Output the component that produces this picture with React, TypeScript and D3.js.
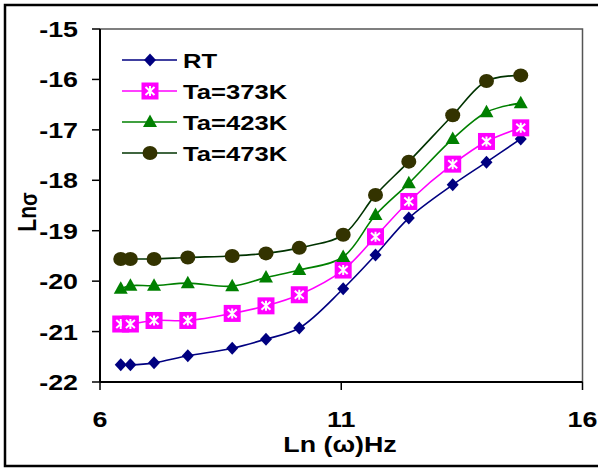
import React from "react";
import * as d3 from "d3";

const xValues = [6.43, 6.63, 7.12, 7.82, 8.74, 9.44, 10.13, 11.04, 11.71, 12.4, 13.31, 14.01, 14.72];
const rt = [-21.66, -21.66, -21.62, -21.48, -21.33, -21.15, -20.93, -20.15, -19.48, -18.75, -18.09, -17.64, -17.18];
const ta373 = [-20.85, -20.85, -20.78, -20.78, -20.64, -20.49, -20.27, -19.78, -19.12, -18.42, -17.68, -17.23, -16.96];
const ta423 = [-20.15, -20.09, -20.09, -20.04, -20.1, -19.93, -19.78, -19.52, -18.69, -18.06, -17.18, -16.65, -16.47];
const ta473 = [-19.56, -19.56, -19.56, -19.53, -19.5, -19.45, -19.34, -19.08, -18.29, -17.63, -16.71, -16.03, -15.92];

const seriesNames = ["RT", "Ta=373K", "Ta=423K", "Ta=473K"];
const xTicks = [6, 11, 16];
const yTicks = [-22, -21, -20, -19, -18, -17, -16, -15];

const W = 598, H = 469;
const L = 100, R = 582.5, T = 29, B = 382;
const FONT = "'Liberation Sans', Arial, sans-serif";
const SX = 1.22;

const x = d3.scaleLinear().domain([6, 16]).range([L, R]);
const y = d3.scaleLinear().domain([-22, -15]).range([B, T]);

type Kind = "diamond" | "square" | "triangle" | "circle";
const series: { name: string; values: number[]; line: string; kind: Kind }[] = [
  { name: seriesNames[0], values: rt, line: "#000080", kind: "diamond" },
  { name: seriesNames[1], values: ta373, line: "#ff00ff", kind: "square" },
  { name: seriesNames[2], values: ta423, line: "#008000", kind: "triangle" },
  { name: seriesNames[3], values: ta473, line: "#003300", kind: "circle" },
];

function Marker({ kind, cx, cy }: { kind: Kind; cx: number; cy: number }) {
  if (kind === "diamond")
    return <path d={`M${cx},${cy - 6.5}L${cx + 6},${cy}L${cx},${cy + 6.5}L${cx - 6},${cy}Z`} fill="#000080" />;
  if (kind === "square")
    return (
      <g>
        <rect x={cx - 8.5} y={cy - 8.5} width={17} height={17} fill="#ff00ff" />
        <path
          d={`M${cx},${cy - 5}L${cx},${cy + 5}M${cx - 4.5},${cy - 4}L${cx + 4.5},${cy + 4}M${cx + 4.5},${cy - 4}L${cx - 4.5},${cy + 4}`}
          stroke="#fff"
          strokeWidth={2}
        />
      </g>
    );
  if (kind === "triangle")
    return <path d={`M${cx},${cy - 7.5}L${cx + 7},${cy + 5}L${cx - 7},${cy + 5}Z`} fill="#008000" />;
  return <ellipse cx={cx} cy={cy} rx={7.5} ry={7} fill="#333300" />;
}

function Txt({ x: tx, y: ty, anchor, size, children }: any) {
  return (
    <text
      transform={`translate(${tx},${ty}) scale(${SX},1)`}
      textAnchor={anchor}
      fontFamily={FONT}
      fontWeight="bold"
      fontSize={size}
      fill="#000"
    >
      {children}
    </text>
  );
}

export default function App() {
  const line = d3
    .line<number>()
    .x((_, i) => x(xValues[i]))
    .y((v) => y(v))
    .curve(d3.curveCatmullRom.alpha(0.5));

  return (
    <svg width={W} height={H} style={{ position: "absolute", left: 0, top: 0, background: "#fff" }}>
      <rect x={0} y={0} width={W} height={H} fill="#fff" />
      {/* outer frame */}
      <rect x={5} y={5} width={W + 10} height={461} fill="none" stroke="#000" strokeWidth={2.5} />
      {/* plot frame top/right */}
      <path d={`M${L},${T}H${R}V${B}`} fill="none" stroke="#555" strokeWidth={1.5} />
      {/* series lines */}
      {series.map((s) => (
        <path key={s.name} d={line(s.values) || ""} fill="none" stroke={s.line} strokeWidth={1.6} />
      ))}
      {series.map((s) =>
        s.values.map((v, i) => <Marker key={s.name + i} kind={s.kind} cx={x(xValues[i])} cy={y(v)} />)
      )}
      {/* axes */}
      <line x1={L} y1={T} x2={L} y2={B} stroke="#000" strokeWidth={2} />
      <line x1={L} y1={B} x2={R} y2={B} stroke="#000" strokeWidth={2} />
      {yTicks.map((t) => (
        <g key={"y" + t}>
          <line x1={L - 8} x2={L} y1={y(t)} y2={y(t)} stroke="#000" strokeWidth={1.5} />
          <Txt x={78} y={y(t) + 8} anchor="end" size={22}>
            {String(t)}
          </Txt>
        </g>
      ))}
      {xTicks.map((t) => (
        <g key={"x" + t}>
          <line x1={x(t)} x2={x(t)} y1={B} y2={B + 8} stroke="#000" strokeWidth={1.5} />
          <Txt x={x(t)} y={427} anchor="middle" size={22}>
            {String(t)}
          </Txt>
        </g>
      ))}
      {/* axis titles */}
      <Txt x={340} y={452} anchor="middle" size={22}>
        Ln (ω)Hz
      </Txt>
      <text
        transform={`translate(36,212) rotate(-90) scale(1,${SX})`}
        textAnchor="middle"
        fontFamily={FONT}
        fontWeight="bold"
        fontSize={21}
      >
        Ln<tspan fontSize={20} dy={1}>σ</tspan>
      </text>
      {/* legend */}
      {series.map((s, i) => {
        const ly = 60 + i * 31;
        return (
          <g key={"lg" + s.name}>
            <line x1={122} x2={177} y1={ly} y2={ly} stroke={s.line} strokeWidth={1.6} />
            <Marker kind={s.kind} cx={150} cy={ly} />
            <Txt x={183} y={ly + 8} anchor="start" size={21}>
              {s.name}
            </Txt>
          </g>
        );
      })}
    </svg>
  );
}
